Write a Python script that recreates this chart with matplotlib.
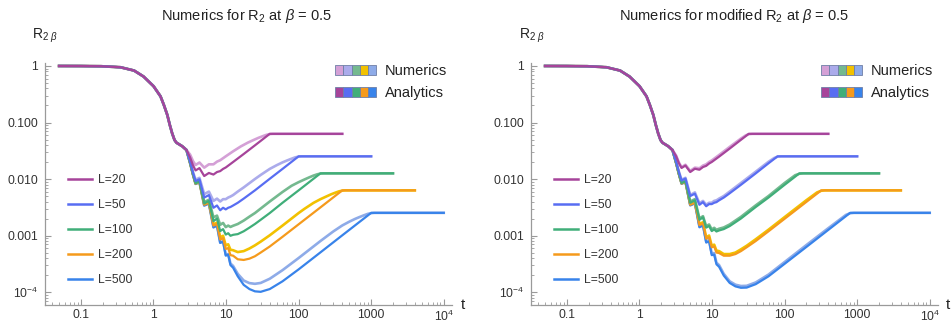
import matplotlib.pyplot as plt
from matplotlib.patches import Patch
from matplotlib.lines import Line2D
from matplotlib.legend_handler import HandlerTuple
from matplotlib.ticker import FixedLocator, LogLocator, NullFormatter

plt.rcParams['font.family'] = ['Liberation Sans', 'DejaVu Sans']
plt.rcParams['mathtext.fontset'] = 'custom'
plt.rcParams['mathtext.rm'] = 'Liberation Sans'
plt.rcParams['mathtext.it'] = 'Liberation Sans:italic'

L_values = [20, 50, 100, 200, 500]
an_colors = ['#A6449A', '#586DF2', '#40AE79', '#F59A1C', '#3883EA']
num_colors = ['#D4A0D6', '#ABABEB', '#74B98F', '#F2C100', '#8EABE8']

# early part, shared by every curve
t_early = [0.05, 0.1, 0.19, 0.35, 0.54, 0.73, 1.0, 1.25, 1.39, 1.55, 1.68, 1.81, 1.95, 2.07, 2.49, 2.85]
r_early = [1.0, 0.998, 0.99, 0.95, 0.83, 0.65, 0.44, 0.29, 0.204, 0.136, 0.09, 0.064, 0.049, 0.044, 0.038, 0.0326]

# ---- left panel : analytics ----
tla20 = [3.2, 3.5, 3.8, 4.3, 5.0, 5.8, 6.7, 7.5, 8.3, 9.1, 9.9, 12.5, 17.5, 25, 40, 400]
rla20 = [0.024, 0.0175, 0.0142, 0.0156, 0.0113, 0.0128, 0.012, 0.0133, 0.0138, 0.0151, 0.016, 0.02, 0.0277, 0.0394, 0.063, 0.063]
tla50 = [3.2, 3.5, 3.8, 4.3, 5.0, 5.8, 6.7, 7.5, 8.3, 9.1, 9.9, 10.7, 11.5, 12.5, 14.5, 17.5, 25, 40, 60, 100, 1000]
rla50 = [0.0198, 0.0129, 0.0092, 0.0099, 0.0047, 0.0052, 0.0031, 0.0034, 0.0028, 0.0031, 0.0029, 0.0031, 0.0032,
         0.0034, 0.0038, 0.0045, 0.0063, 0.0101, 0.0151, 0.0252, 0.0252]
tla100 = [3.2, 3.5, 3.8, 4.3, 5.0, 5.8, 6.7, 7.5, 8.3, 9.1, 9.9, 10.7, 11.5, 12.5, 14.5, 17.5, 21, 25, 30, 40, 60, 100, 200, 2000]
rla100 = [0.0192, 0.0122, 0.0084, 0.0091, 0.0037, 0.0041, 0.0018, 0.002, 0.0012, 0.0013, 0.00104, 0.0011, 0.00099,
          0.00103, 0.00106, 0.00119, 0.00138, 0.0016, 0.0019, 0.0025, 0.0038, 0.0063, 0.0126, 0.0126]
tla200 = [3.2, 3.5, 3.8, 4.3, 5.0, 5.8, 6.7, 7.5, 8.3, 9.1, 9.9, 10.7, 11.5, 12.5, 14.5, 17.5, 21, 25, 30, 40, 60, 100, 200, 400, 4000]
rla200 = [0.019, 0.0121, 0.0083, 0.0089, 0.0035, 0.0038, 0.0015, 0.0016, 0.00085, 0.0009, 0.00058, 0.0006, 0.00045,
          0.00044, 0.00038, 0.00037, 0.00039, 0.00043, 0.0005, 0.00064, 0.00095, 0.00158, 0.00315, 0.0063, 0.0063]
tla500 = [3.2, 3.5, 3.8, 4.3, 5.0, 5.8, 6.7, 7.5, 8.3, 9.1, 9.9, 10.7, 11.5, 12.5, 14.5, 17.5, 21, 25, 30, 40, 60, 100, 200, 400, 1000, 10000]
rla500 = [0.019, 0.012, 0.0082, 0.0088, 0.0034, 0.0037, 0.0014, 0.0015, 0.00074, 0.00078, 0.00044, 0.00046, 0.0003,
          0.00027, 0.00019, 0.000134, 0.000113, 0.000103, 0.000101, 0.000113, 0.000155, 0.000252, 0.000504, 0.00101,
          0.00252, 0.00252]

# ---- left panel : numerics ----
tln20 = [3.2, 3.5, 3.8, 4.3, 5.0, 5.8, 6.7, 7.5, 8.3, 9.9, 12.5, 16, 20, 24, 28, 32, 36, 40, 44, 400]
rln20 = [0.027, 0.0208, 0.0177, 0.0196, 0.0159, 0.0182, 0.0182, 0.0203, 0.0215, 0.0252, 0.0309, 0.0378, 0.0441,
         0.0491, 0.0536, 0.0573, 0.0605, 0.0624, 0.063, 0.063]
tln50 = [3.2, 3.5, 3.8, 4.3, 5.0, 5.8, 6.7, 7.5, 8.3, 9.1, 9.9, 10.7, 11.5, 12.5, 14.5, 17.5, 25, 30, 40, 50, 60, 70, 80,
         90, 100, 110, 1000]
rln50 = [0.0203, 0.0134, 0.0097, 0.0105, 0.0054, 0.006, 0.0041, 0.0045, 0.004, 0.0044, 0.0044, 0.0047, 0.0049, 0.0052,
         0.006, 0.0071, 0.01, 0.0118, 0.0151, 0.0176, 0.0197, 0.0214, 0.0229, 0.0242, 0.0249, 0.0252, 0.0252]
tln100 = [3.2, 3.5, 3.8, 4.3, 5.0, 5.8, 6.7, 7.5, 8.3, 9.1, 9.9, 10.7, 11.5, 12.5, 14.5, 17.5, 21, 25, 30, 40, 60, 80,
          100, 120, 140, 160, 180, 200, 220, 2000]
rln100 = [0.0193, 0.01235, 0.0086, 0.0092, 0.0039, 0.0043, 0.0021, 0.00225, 0.00155, 0.00167, 0.00141, 0.0015, 0.00142,
          0.00149, 0.0016, 0.00184, 0.00216, 0.0025, 0.003, 0.004, 0.0059, 0.0076, 0.0088, 0.0098, 0.0107, 0.0115,
          0.0121, 0.0125, 0.0126, 0.0126]
tln200 = [3.2, 3.5, 3.8, 4.3, 5.0, 5.8, 6.7, 7.5, 8.3, 9.1, 9.9, 10.7, 11.5, 12.5, 14.5, 17.5, 21, 25, 30, 40, 60, 100,
          120, 160, 200, 240, 280, 320, 360, 400, 440, 4000]
rln200 = [0.0191, 0.0121, 0.0083, 0.0089, 0.00353, 0.00385, 0.00157, 0.00169, 0.00093, 0.00099, 0.00067, 0.0007,
          0.00056, 0.00055, 0.00051, 0.00053, 0.00059, 0.00067, 0.00078, 0.00101, 0.0015, 0.0025, 0.00296, 0.00378,
          0.0044, 0.0049, 0.00536, 0.00573, 0.00605, 0.00624, 0.0063, 0.0063]
tln500 = [3.2, 3.5, 3.8, 4.3, 5.0, 5.8, 6.7, 7.5, 8.3, 9.1, 9.9, 10.7, 11.5, 12.5, 14.5, 17.5, 21, 25, 30, 40, 60, 100,
          200, 300, 400, 500, 600, 700, 800, 900, 1000, 1100, 10000]
rln500 = [0.019, 0.012, 0.0082, 0.0088, 0.0034, 0.0037, 0.0014, 0.0015, 0.00075, 0.0008, 0.00046, 0.00047, 0.00032,
          0.00029, 0.00021, 0.00016, 0.000144, 0.00014, 0.000145, 0.000172, 0.000244, 0.0004, 0.0008, 0.00118,
          0.00151, 0.00176, 0.00197, 0.00214, 0.00229, 0.00242, 0.00249, 0.00252, 0.00252]

# ---- right panel : analytics ----
tra20 = [3.2, 3.5, 3.8, 4.3, 5.0, 5.8, 6.7, 7.5, 8.3, 9.1, 9.9, 12.5, 17.5, 25, 32, 400]
rra20 = [0.0253, 0.0189, 0.0157, 0.0173, 0.0133, 0.0152, 0.0146, 0.0163, 0.0171, 0.0188, 0.02, 0.0249, 0.0346, 0.0494,
         0.063, 0.063]
tra50 = [3.2, 3.5, 3.8, 4.3, 5.0, 5.8, 6.7, 7.5, 8.3, 9.1, 9.9, 10.7, 11.5, 12.5, 14.5, 17.5, 25, 40, 60, 80, 1000]
rra50 = [0.02, 0.0131, 0.0094, 0.0102, 0.005, 0.0055, 0.0035, 0.0039, 0.0033, 0.0036, 0.0036, 0.0038, 0.0039, 0.0042,
         0.0047, 0.0056, 0.0079, 0.0126, 0.019, 0.0252, 0.0252]
tra100 = [3.2, 3.5, 3.8, 4.3, 5.0, 5.8, 6.7, 7.5, 8.3, 9.1, 9.9, 10.7, 11.5, 12.5, 14.5, 17.5, 21, 25, 30, 40, 60, 100, 160, 2000]
rra100 = [0.0193, 0.0123, 0.0085, 0.0091, 0.0038, 0.0042, 0.0019, 0.0021, 0.00138, 0.00148, 0.0012, 0.00128, 0.00118,
          0.00123, 0.0013, 0.00147, 0.00172, 0.002, 0.0024, 0.0032, 0.0047, 0.0079, 0.0126, 0.0126]
tra200 = [3.2, 3.5, 3.8, 4.3, 5.0, 5.8, 6.7, 7.5, 8.3, 9.1, 9.9, 10.7, 11.5, 12.5, 14.5, 17.5, 21, 25, 30, 40, 60, 100, 200, 320, 4000]
rra200 = [0.0191, 0.0121, 0.0083, 0.0089, 0.0035, 0.0038, 0.00153, 0.00165, 0.00088, 0.00094, 0.00062, 0.00064, 0.0005,
          0.00049, 0.00044, 0.00044, 0.00047, 0.00053, 0.00062, 0.0008, 0.00119, 0.00198, 0.00395, 0.0063, 0.0063]
tra500 = [3.2, 3.5, 3.8, 4.3, 5.0, 5.8, 6.7, 7.5, 8.3, 9.1, 9.9, 10.7, 11.5, 12.5, 14.5, 17.5, 21, 25, 30, 40, 60, 100, 200, 400, 800, 10000]
rra500 = [0.019, 0.012, 0.0082, 0.0088, 0.0034, 0.0037, 0.0014, 0.0015, 0.00075, 0.00079, 0.00045, 0.00046, 0.00031,
          0.00028, 0.000196, 0.000145, 0.000126, 0.000119, 0.00012, 0.000138, 0.00019, 0.000316, 0.00063, 0.00126,
          0.00252, 0.00252]

# ---- right panel : numerics ----
trn20 = [3.2, 3.5, 3.8, 4.3, 5.0, 5.8, 6.7, 7.5, 8.3, 9.1, 9.9, 12.5, 17.5, 25, 29, 32, 36, 400]
rrn20 = [0.026, 0.0195, 0.0162, 0.0179, 0.0139, 0.0159, 0.0155, 0.0173, 0.0182, 0.02, 0.0213, 0.0266, 0.037, 0.052,
         0.059, 0.0622, 0.063, 0.063]
trn50 = [3.2, 3.5, 3.8, 4.3, 5.0, 5.8, 6.7, 7.5, 8.3, 9.1, 9.9, 10.7, 11.5, 12.5, 14.5, 17.5, 25, 40, 60, 72, 80, 90, 1000]
rrn50 = [0.0205, 0.0134, 0.0097, 0.0105, 0.0052, 0.0058, 0.0037, 0.0041, 0.0035, 0.0038, 0.0038, 0.0041, 0.0042, 0.0045,
         0.005, 0.006, 0.0085, 0.0135, 0.0202, 0.0236, 0.0249, 0.0252, 0.0252]
trn100 = [3.2, 3.5, 3.8, 4.3, 5.0, 5.8, 6.7, 7.5, 8.3, 9.1, 9.9, 10.7, 11.5, 12.5, 14.5, 17.5, 21, 25, 30, 40, 60, 100,
          140, 160, 180, 2000]
rrn100 = [0.0195, 0.0125, 0.0087, 0.0094, 0.004, 0.0044, 0.002, 0.0022, 0.00146, 0.00157, 0.00128, 0.00137, 0.00126,
          0.00132, 0.00139, 0.00157, 0.00184, 0.00214, 0.00257, 0.00342, 0.005, 0.0085, 0.0117, 0.0124, 0.0126, 0.0126]
trn200 = [3.2, 3.5, 3.8, 4.3, 5.0, 5.8, 6.7, 7.5, 8.3, 9.1, 9.9, 10.7, 11.5, 12.5, 14.5, 17.5, 21, 25, 30, 40, 60, 100,
          200, 280, 320, 360, 4000]
rrn200 = [0.0193, 0.0122, 0.0085, 0.0091, 0.0036, 0.0039, 0.0016, 0.00172, 0.00093, 0.001, 0.00066, 0.00069, 0.00054,
          0.00053, 0.00047, 0.00047, 0.0005, 0.00057, 0.00066, 0.00086, 0.00127, 0.00212, 0.00423, 0.0058, 0.0062,
          0.0063, 0.0063]
trn500 = [3.2, 3.5, 3.8, 4.3, 5.0, 5.8, 6.7, 7.5, 8.3, 9.1, 9.9, 10.7, 11.5, 12.5, 14.5, 17.5, 21, 25, 30, 40, 60, 100,
          200, 400, 700, 800, 900, 10000]
rrn500 = [0.0192, 0.0122, 0.0084, 0.009, 0.0035, 0.0038, 0.00145, 0.00156, 0.00079, 0.00083, 0.00048, 0.00049, 0.00033,
          0.0003, 0.00021, 0.000155, 0.000135, 0.000128, 0.000129, 0.000148, 0.000204, 0.00034, 0.00068, 0.00135,
          0.00232, 0.00248, 0.00252, 0.00252]

left_an = [(tla20, rla20), (tla50, rla50), (tla100, rla100), (tla200, rla200), (tla500, rla500)]
left_num = [(tln20, rln20), (tln50, rln50), (tln100, rln100), (tln200, rln200), (tln500, rln500)]
right_an = [(tra20, rra20), (tra50, rra50), (tra100, rra100), (tra200, rra200), (tra500, rra500)]
right_num = [(trn20, rrn20), (trn50, rrn50), (trn100, rrn100), (trn200, rrn200), (trn500, rrn500)]


def draw_panel(ax, num_curves, an_curves):
    # numerics first (light), then analytics, L=20 ends on top
    for i in reversed(range(len(L_values))):
        t, r = num_curves[i]
        ax.plot(t_early + t, r_early + r, color=num_colors[i], lw=1.9, solid_joinstyle='round')
    for i in reversed(range(len(L_values))):
        t, r = an_curves[i]
        ax.plot(t_early + t, r_early + r, color=an_colors[i], lw=1.6, solid_joinstyle='round')

    ax.set_xscale('log')
    ax.set_yscale('log')
    ax.set_xlim(0.032, 13000)
    ax.set_ylim(5.9e-5, 1.13)
    for s in ['top', 'right']:
        ax.spines[s].set_visible(False)
    for s in ['left', 'bottom']:
        ax.spines[s].set_color('#9a9a9a')
        ax.spines[s].set_linewidth(0.9)

    ax.xaxis.set_major_locator(FixedLocator([0.1, 1, 10, 100, 1000, 1e4]))
    ax.set_xticklabels(['0.1', '1', '10', '100', '1000', '$10^4$'])
    ax.yaxis.set_major_locator(FixedLocator([1e-4, 1e-3, 1e-2, 1e-1, 1]))
    ax.set_yticklabels(['$10^{-4}$', '0.001', '0.010', '0.100', '1'])
    ax.xaxis.set_minor_locator(LogLocator(subs=range(2, 10), numticks=20))
    ax.yaxis.set_minor_locator(LogLocator(subs=range(2, 10), numticks=20))
    ax.xaxis.set_minor_formatter(NullFormatter())
    ax.yaxis.set_minor_formatter(NullFormatter())
    ax.tick_params(which='major', direction='in', length=4, width=0.8, color='#9a9a9a',
                   labelcolor='#333333', labelsize=8.7)
    ax.tick_params(axis='y', which='major', pad=5)
    ax.tick_params(axis='x', which='major', pad=3)
    ax.tick_params(which='minor', direction='in', length=2, width=0.6, color='#9a9a9a')

    # L legend
    handles = [Line2D([], [], color=c, lw=1.8) for c in an_colors]
    leg1 = ax.legend(handles, [f'L={L}' for L in L_values], loc='upper left',
                     bbox_to_anchor=(0.03, 0.585), frameon=False, fontsize=8.7,
                     handlelength=2.0, handletextpad=0.5, labelspacing=1.07)
    for txt in leg1.get_texts():
        txt.set_color('#333333')
    ax.add_artist(leg1)

    # Numerics / Analytics swatches
    num_sw = tuple(Patch(facecolor=c, edgecolor='#6f7fa6', lw=0.6) for c in num_colors)
    an_sw = tuple(Patch(facecolor=c, edgecolor='#6f7fa6', lw=0.6) for c in an_colors)
    leg2 = ax.legend([num_sw, an_sw], ['Numerics', 'Analytics'], loc='upper right',
                     bbox_to_anchor=(1.02, 1.05), frameon=False, fontsize=10.5,
                     handler_map={tuple: HandlerTuple(ndivide=None, pad=0)},
                     handlelength=2.8, handleheight=0.7, handletextpad=0.6, labelspacing=0.55)
    for txt in leg2.get_texts():
        txt.set_color('#222222')


fig = plt.figure(figsize=(9.52, 3.24), dpi=100)
ax1 = fig.add_axes([0.0473, 0.0586, 0.4275, 0.747])
ax2 = fig.add_axes([0.5578, 0.0586, 0.4275, 0.747])

draw_panel(ax1, left_num, left_an)
draw_panel(ax2, right_num, right_an)

fig.text(0.259, 0.951, r'Numerics for R$_2$ at $\beta$ = 0.5', ha='center', va='center', fontsize=10.5,
         color='#222222')
fig.text(0.771, 0.951, r'Numerics for modified R$_2$ at $\beta$ = 0.5', ha='center', va='center', fontsize=10.5,
         color='#222222')
fig.text(0.034, 0.89, r'R$_{2\ \beta}$', ha='left', va='center', fontsize=10, color='#222222')
fig.text(0.545, 0.89, r'R$_{2\ \beta}$', ha='left', va='center', fontsize=10, color='#222222')
fig.text(0.484, 0.0586, 't', ha='left', va='center', fontsize=11, color='#222222')
fig.text(0.994, 0.0586, 't', ha='left', va='center', fontsize=11, color='#222222')

fig.savefig('out.png', dpi=100)
